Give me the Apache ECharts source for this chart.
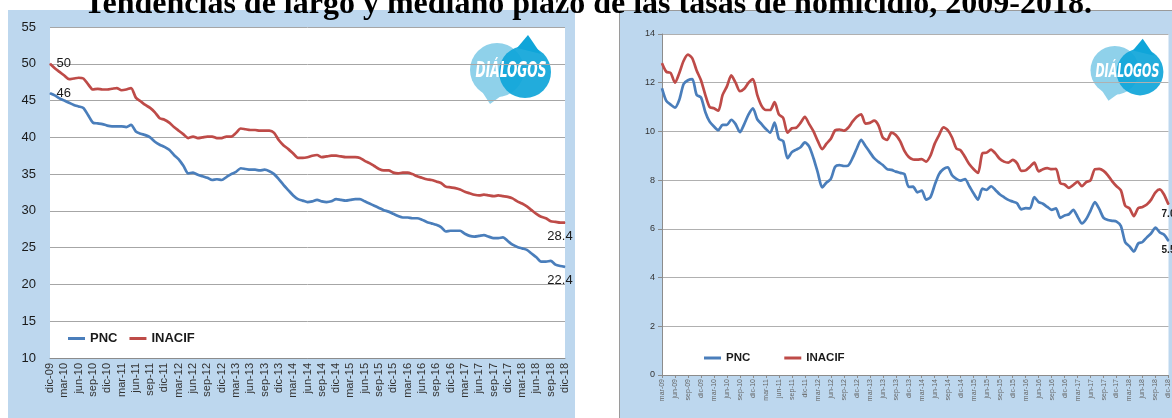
<!DOCTYPE html>
<html>
<head>
<meta charset="utf-8">
<script src="https://cdn.jsdelivr.net/npm/echarts@6/dist/echarts.min.js"></script>
<style>
  html, body { margin: 0; padding: 0; background: #fff; }
  #c { width: 1172px; height: 418px; }
</style>
</head>
<body>
<div id="c"></div>
<script>
const TITLE = 'Tendencias de largo y mediano plazo de las tasas de homicidio, 2009-2018.';
const MONTHS = ['ene','feb','mar','abr','may','jun','jul','ago','sep','oct','nov','dic'];
const SERIES_NAMES = ['PNC', 'INACIF'];

// Long-term panel: 12-month rates, dic-09 .. dic-18
const PNC_LONG = [
  46.0,45.7,45.3,45.0,44.7,44.4,44.2,44.0,43.0,42.0,
  41.9,41.8,41.6,41.5,41.5,41.5,41.4,41.7,40.8,40.5,
  40.3,40.0,39.4,39.0,38.7,38.3,37.6,37.0,36.1,35.1,
  35.2,34.9,34.7,34.5,34.2,34.3,34.2,34.6,35.0,35.3,
  35.8,35.7,35.6,35.6,35.5,35.6,35.4,35.0,34.3,33.5,
  32.8,32.1,31.6,31.4,31.2,31.3,31.5,31.3,31.2,31.3,
  31.6,31.5,31.4,31.5,31.6,31.6,31.3,31.0,30.7,30.4,
  30.1,29.9,29.6,29.3,29.1,29.1,29.0,29.0,28.8,28.5,
  28.3,28.1,27.8,27.2,27.3,27.3,27.3,26.9,26.6,26.5,
  26.6,26.7,26.5,26.3,26.3,26.4,25.9,25.4,25.1,24.9,
  24.7,24.2,23.7,23.1,23.1,23.2,22.7,22.5,22.4
];
const INACIF_LONG = [
  50.0,49.4,48.9,48.4,47.9,48.0,48.1,48.0,47.2,46.5,
  46.6,46.5,46.5,46.6,46.7,46.4,46.5,46.7,45.4,44.9,
  44.4,44.0,43.4,42.6,42.4,42.0,41.4,40.9,40.4,39.9,
  40.1,39.9,40.0,40.1,40.1,39.9,39.9,40.1,40.1,40.6,
  41.2,41.1,41.0,41.0,40.9,40.9,40.9,40.6,39.6,38.9,
  38.4,37.8,37.2,37.2,37.3,37.5,37.6,37.3,37.4,37.5,
  37.5,37.4,37.3,37.3,37.3,37.2,36.8,36.5,36.1,35.7,
  35.5,35.5,35.2,35.1,35.2,35.2,35.0,34.7,34.5,34.3,
  34.2,34.0,33.8,33.3,33.2,33.1,32.9,32.6,32.4,32.2,
  32.1,32.2,32.1,32.0,32.1,32.0,31.9,31.7,31.3,31.0,
  30.6,30.1,29.6,29.2,29.0,28.6,28.5,28.4,28.4
];

// Medium-term panel: monthly rates, mar-09 .. dic-18
const PNC_MED = [
  11.77,11.25,11.1,10.98,11.3,11.95,12.1,12.15,11.5,11.4,
  10.8,10.4,10.2,10.05,10.27,10.27,10.48,10.3,9.97,10.3,
  10.7,10.95,10.5,10.3,10.1,9.95,10.36,9.7,9.6,8.9,
  9.15,9.25,9.35,9.55,9.38,8.9,8.3,7.7,7.9,8.05,
  8.55,8.62,8.58,8.6,8.9,9.3,9.65,9.4,9.15,8.9,
  8.75,8.62,8.45,8.42,8.35,8.3,8.25,7.72,7.73,7.5,
  7.57,7.2,7.3,7.8,8.25,8.45,8.53,8.2,8.05,7.98,
  8.04,7.75,7.45,7.2,7.65,7.6,7.75,7.6,7.42,7.3,
  7.19,7.12,7.05,6.8,6.85,6.84,7.3,7.1,7.03,6.9,
  6.78,6.84,6.45,6.55,6.6,6.78,6.5,6.22,6.4,6.75,
  7.1,6.82,6.45,6.36,6.33,6.3,6.12,5.45,5.28,5.07,
  5.4,5.46,5.65,5.82,6.05,5.85,5.76,5.5
];
const INACIF_MED = [
  12.8,12.45,12.4,12.0,12.4,12.9,13.15,13.0,12.5,12.1,
  11.5,11.0,10.95,10.85,11.5,11.85,12.3,12.0,11.65,11.75,
  12.0,12.15,11.5,11.05,10.88,10.88,11.2,10.7,10.55,9.95,
  10.13,10.15,10.35,10.6,10.3,10.0,9.6,9.27,9.5,9.7,
  10.05,10.08,10.03,10.15,10.4,10.6,10.7,10.32,10.35,10.44,
  10.25,9.75,9.65,9.95,9.85,9.6,9.2,8.95,8.85,8.84,
  8.86,8.76,9.0,9.5,9.85,10.17,10.05,9.75,9.3,9.22,
  8.95,8.65,8.45,8.3,9.1,9.13,9.25,9.1,8.88,8.76,
  8.72,8.83,8.7,8.38,8.4,8.55,8.72,8.36,8.45,8.49,
  8.45,8.46,7.88,7.82,7.68,7.8,7.94,7.75,7.92,8.0,
  8.45,8.46,8.38,8.2,7.95,7.75,7.58,6.95,6.84,6.52,
  6.85,6.9,7.0,7.2,7.5,7.62,7.4,7.0
];

const LONG_Y_TICKS = { min: 10, max: 55, step: 5 };
const MED_Y_TICKS = { min: 0, max: 14, step: 2 };

const BLUE = '#4a7ebb';
const RED = '#be4b48';
const PANEL = '#bdd7ee';

// Month labels such as "dic-09", starting from a given year / month index
function monthLabels(year, month, count) {
  const out = [];
  for (let k = 0; k < count; k++) {
    const m = (month + k) % 12;
    const y = year + Math.floor((month + k) / 12);
    out.push(MONTHS[m] + '-' + String(y % 100).padStart(2, '0'));
  }
  return out;
}
const LONG_CATS = monthLabels(2009, 11, PNC_LONG.length);
const MED_CATS = monthLabels(2009, 2, PNC_MED.length);

// Attach value labels to the first and/or last point of a series
function withLabels(values, first, last, labelStyle) {
  const n = values.length - 1;
  return values.map((v, i) => {
    if (first && i === 0) return { value: v, label: Object.assign({ show: true }, labelStyle.first) };
    if (last && i === n) return { value: v, label: Object.assign({ show: true }, labelStyle.last) };
    return v;
  });
}

const longLabel = {
  first: { position: 'right', distance: 6, fontSize: 13, color: '#1a1a1a', fontFamily: 'Liberation Sans, Arial' },
  last: { position: 'bottom', distance: 7, offset: [-5, 0], fontSize: 13, color: '#1a1a1a', fontFamily: 'Liberation Sans, Arial' }
};
const medLabel = {
  last: { position: 'bottom', distance: 4, fontSize: 10, fontWeight: 'bold', color: '#1a1a1a',
          fontFamily: 'Liberation Sans, Arial', formatter: p => p.value.toFixed(1) }
};

function lineSeries(name, color, xi, data, width) {
  return {
    name: name, type: 'line', xAxisIndex: xi, yAxisIndex: xi,
    data: data,
    smooth: 0.25,
    showSymbol: true, showAllSymbol: true, symbol: 'circle', symbolSize: 1,
    itemStyle: { color: color },
    lineStyle: { color: color, width: width },
    label: { show: false },
    emphasis: { disabled: true },
    animation: false
  };
}

// Speech-bubble logo
function logo(x, y, s) {
  return {
    type: 'group', x: x, y: y, scaleX: s, scaleY: s, z: 5,
    children: [
      { type: 'polygon', shape: { points: [[-44, 18], [-24, 24], [-35, 32]] }, style: { fill: '#8fd1ea' } },
      { type: 'circle', shape: { cx: -28, cy: -2, r: 27 }, style: { fill: '#8fd1ea' } },
      { type: 'polygon', shape: { points: [[-8, -24], [3, -37], [16, -18]] }, style: { fill: '#0fa5d9' } },
      { type: 'circle', shape: { cx: 0, cy: 0, r: 26 }, style: { fill: '#0fa5d9', opacity: 0.92 } },
      { type: 'text', x: -14, y: 0, scaleX: 0.58,
        style: { text: 'DIÁLOGOS', font: 'italic bold 21px "DejaVu Sans"', fill: '#fff',
                 align: 'center', verticalAlign: 'middle' } }
    ]
  };
}

const option = {
  backgroundColor: '#fff',
  animation: false,
  graphic: [
    { type: 'rect', z: -10, shape: { x: 8, y: 10, width: 567, height: 408 }, style: { fill: PANEL } },
    { type: 'rect', z: -10, shape: { x: 619.5, y: 10.5, width: 560, height: 410 }, style: { fill: PANEL, stroke: '#9a9a9a', lineWidth: 1 } },
    logo(525, 72, 1),
    logo(1140, 72, 0.9),
    { type: 'text', x: 588, y: 21, z: 100,
      style: { text: TITLE, font: 'bold 32px "Liberation Serif"', fill: '#000', align: 'center', verticalAlign: 'bottom' } }
  ],
  legend: [
    { left: 63, top: 327, icon: 'rect', itemWidth: 17, itemHeight: 3, itemGap: 12,
      data: SERIES_NAMES, selectedMode: false,
      textStyle: { fontSize: 13, fontWeight: 'bold', color: '#1a1a1a', fontFamily: 'Liberation Sans, Arial' } },
    { left: 699, top: 347, icon: 'rect', itemWidth: 17, itemHeight: 3, itemGap: 34,
      data: SERIES_NAMES, selectedMode: false,
      textStyle: { fontSize: 11.5, fontWeight: 'bold', color: '#1a1a1a', fontFamily: 'Liberation Sans, Arial' } }
  ],
  grid: [
    { left: 50, top: 27, width: 515, height: 331, show: true, backgroundColor: '#fff', borderWidth: 0 },
    { left: 662, top: 34, width: 507, height: 341, show: true, backgroundColor: '#fff', borderWidth: 0 }
  ],
  xAxis: [
    { type: 'category', gridIndex: 0, data: LONG_CATS, boundaryGap: false,
      axisLine: { lineStyle: { color: '#8c8c8c' } }, axisTick: { show: false },
      axisLabel: { interval: (i) => i % 3 === 0, rotate: 90, margin: 5, fontSize: 11, color: '#333',
                   fontFamily: 'Liberation Sans, Arial' },
      splitLine: { show: false } },
    { type: 'category', gridIndex: 1, data: MED_CATS, boundaryGap: false,
      axisLine: { lineStyle: { color: '#8c8c8c' } },
      axisTick: { show: true, interval: (i) => i % 3 === 0, length: 3, lineStyle: { color: '#8c8c8c' } },
      axisLabel: { interval: (i) => i % 3 === 0, rotate: 90, margin: 4, fontSize: 7, color: '#666',
                   fontFamily: 'Liberation Sans, Arial' },
      splitLine: { show: false } }
  ],
  yAxis: [
    { type: 'value', gridIndex: 0, min: LONG_Y_TICKS.min, max: LONG_Y_TICKS.max, interval: LONG_Y_TICKS.step,
      axisLine: { show: false }, axisTick: { show: false },
      axisLabel: { margin: 14, fontSize: 13, color: '#1a1a1a', fontFamily: 'Liberation Sans, Arial' },
      splitLine: { lineStyle: { color: '#a6a6a6', width: 1 } } },
    { type: 'value', gridIndex: 1, min: MED_Y_TICKS.min, max: MED_Y_TICKS.max, interval: MED_Y_TICKS.step,
      axisLine: { show: true, lineStyle: { color: '#8c8c8c' } },
      axisTick: { show: true, length: 4, lineStyle: { color: '#8c8c8c' } },
      axisLabel: { margin: 7, fontSize: 9, color: '#333', fontFamily: 'Liberation Sans, Arial' },
      splitLine: { lineStyle: { color: '#b0b0b0', width: 1 } } }
  ],
  series: [
    lineSeries('PNC', BLUE, 0, withLabels(PNC_LONG, true, true, longLabel), 2.7),
    lineSeries('INACIF', RED, 0, withLabels(INACIF_LONG, true, true, longLabel), 2.7),
    lineSeries('PNC', BLUE, 1, withLabels(PNC_MED, false, true, medLabel), 2.7),
    lineSeries('INACIF', RED, 1, withLabels(INACIF_MED, false, true, medLabel), 2.7)
  ]
};

const chart = echarts.init(document.getElementById('c'), null, { renderer: 'canvas' });
chart.setOption(option);
</script>
</body>
</html>
